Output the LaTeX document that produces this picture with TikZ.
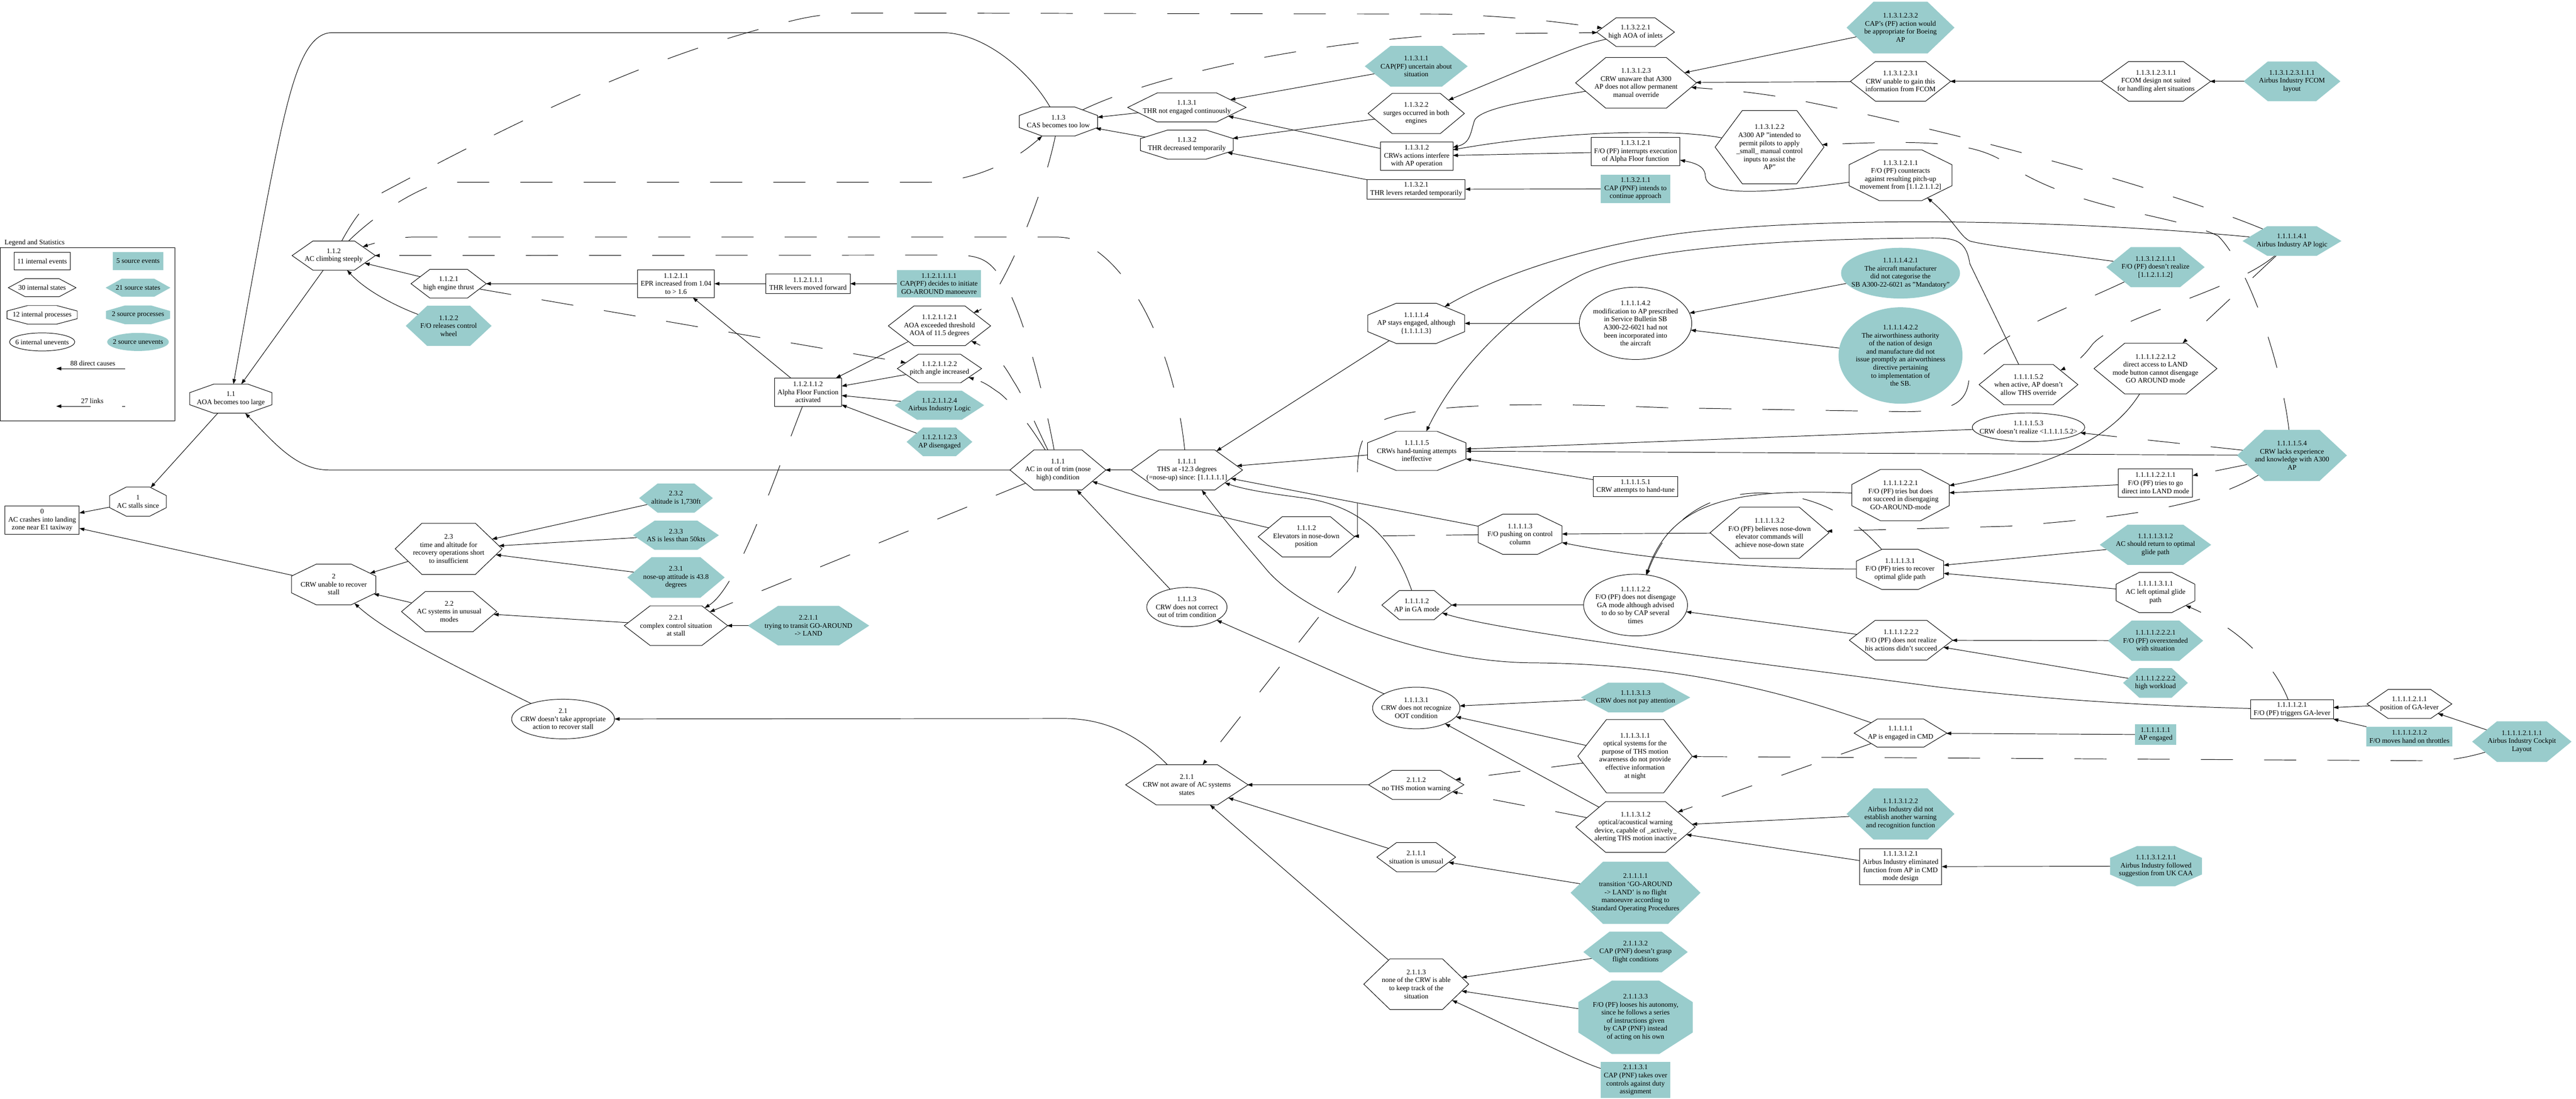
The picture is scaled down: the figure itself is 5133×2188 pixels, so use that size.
\documentclass[tikz,border=0pt]{standalone}
\usepackage{fontspec}
\setmainfont{Liberation Serif}
\usetikzlibrary{arrows.meta,shapes.geometric}
\definecolor{src}{RGB}{153,204,204}
\makeatletter
\pgfkeys{/pgf/cpoly xsep/.initial=0pt,/pgf/cpoly ysep/.initial=0pt}
\pgfdeclareshape{cpoly}{%
  \inheritsavedanchors[from=rectangle]%
  \inheritanchor[from=rectangle]{center}%
  \inheritanchor[from=rectangle]{north}%
  \inheritanchor[from=rectangle]{south}%
  \inheritanchor[from=rectangle]{east}%
  \inheritanchor[from=rectangle]{west}%
  \savedmacro\cpolyxsep{\pgfmathsetlength\pgf@xa{\pgfkeysvalueof{/pgf/cpoly xsep}}\edef\cpolyxsep{\the\pgf@xa}}%
  \savedmacro\cpolyysep{\pgfmathsetlength\pgf@xa{\pgfkeysvalueof{/pgf/cpoly ysep}}\edef\cpolyysep{\the\pgf@xa}}%
  \backgroundpath{%
    \southwest\edef\cpL{\the\pgf@x}\edef\cpB{\the\pgf@y}%
    \northeast\edef\cpR{\the\pgf@x}\edef\cpT{\the\pgf@y}%
    \pgf@xc=\cpolyxsep\relax\pgf@yc=\cpolyysep\relax
    \pgf@xa=\cpL\relax\advance\pgf@xa by\pgf@xc\edef\cpLi{\the\pgf@xa}%
    \pgf@xa=\cpR\relax\advance\pgf@xa by-\pgf@xc\edef\cpRi{\the\pgf@xa}%
    \pgf@ya=\cpB\relax\advance\pgf@ya by\pgf@yc\edef\cpBi{\the\pgf@ya}%
    \pgf@ya=\cpT\relax\advance\pgf@ya by-\pgf@yc\edef\cpTi{\the\pgf@ya}%
    \pgfpathmoveto{\pgfqpoint{\cpLi}{\cpT}}%
    \pgfpathlineto{\pgfqpoint{\cpRi}{\cpT}}%
    \pgfpathlineto{\pgfqpoint{\cpR}{\cpTi}}%
    \pgfpathlineto{\pgfqpoint{\cpR}{\cpBi}}%
    \pgfpathlineto{\pgfqpoint{\cpRi}{\cpB}}%
    \pgfpathlineto{\pgfqpoint{\cpLi}{\cpB}}%
    \pgfpathlineto{\pgfqpoint{\cpL}{\cpBi}}%
    \pgfpathlineto{\pgfqpoint{\cpL}{\cpTi}}%
    \pgfpathclose
  }%
  \anchorborder{%
    \edef\cpdx{\the\pgf@x}\edef\cpdy{\the\pgf@y}%
    \southwest\edef\cpswx{\the\pgf@x}\edef\cpswy{\the\pgf@y}%
    \northeast\edef\cpnex{\the\pgf@x}\edef\cpney{\the\pgf@y}%
    \pgfmathsetmacro\cpA{(\cpnex-(\cpswx))/2}%
    \pgfmathsetmacro\cpB{(\cpney-(\cpswy))/2}%
    \pgfmathsetmacro\cpMX{(\cpnex+(\cpswx))/2}%
    \pgfmathsetmacro\cpMY{(\cpney+(\cpswy))/2}%
    \pgfmathsetmacro\cpCX{\cpolyxsep}%
    \pgfmathsetmacro\cpCY{\cpolyysep}%
    \pgfmathsetmacro\cpDX{\cpdx/100}%
    \pgfmathsetmacro\cpDY{\cpdy/100}%
    \pgfmathsetmacro\cpLen{max(veclen(\cpDX,\cpDY),0.001)}%
    \pgfmathsetmacro\cpUX{\cpDX/\cpLen}%
    \pgfmathsetmacro\cpUY{\cpDY/\cpLen}%
    \pgfmathsetmacro\cpAX{max(abs(\cpUX),0.01)}%
    \pgfmathsetmacro\cpAY{max(abs(\cpUY),0.01)}%
    \pgfmathsetmacro\cpbT{min(min(\cpA/\cpAX,\cpB/\cpAY),(\cpCY*\cpA+\cpCX*\cpB-\cpCX*\cpCY)/(\cpCY*\cpAX+\cpCX*\cpAY))}%
    \pgfmathsetmacro\cpRX{\cpMX+\cpbT*\cpUX}%
    \pgfmathsetmacro\cpRY{\cpMY+\cpbT*\cpUY}%
    \pgf@x=\cpRX pt\relax
    \pgf@y=\cpRY pt\relax
  }%
}
\makeatother
\tikzset{
  nd/.style={font=\fontsize{14}{16}\selectfont, align=center, inner sep=0pt, outer sep=0pt, line width=1pt},
  evt/.style 2 args={nd, rectangle, draw, minimum width=#1pt, minimum height=#2pt},
  sevt/.style 2 args={nd, rectangle, fill=src, minimum width=#1pt, minimum height=#2pt},
  sta/.style 2 args={nd, shape=cpoly, draw, minimum width=#1pt, minimum height=#2pt, /pgf/cpoly xsep={0.25*#1pt}, /pgf/cpoly ysep={0.5*#2pt}},
  ssta/.style 2 args={nd, shape=cpoly, fill=src, minimum width=#1pt, minimum height=#2pt, /pgf/cpoly xsep={0.25*#1pt}, /pgf/cpoly ysep={0.5*#2pt}},
  pro/.style 2 args={nd, shape=cpoly, draw, minimum width=#1pt, minimum height=#2pt, /pgf/cpoly xsep={0.293*#1pt}, /pgf/cpoly ysep={0.293*#2pt}},
  spro/.style 2 args={nd, shape=cpoly, fill=src, minimum width=#1pt, minimum height=#2pt, /pgf/cpoly xsep={0.293*#1pt}, /pgf/cpoly ysep={0.293*#2pt}},
  une/.style 2 args={nd, ellipse, draw, minimum width=#1pt, minimum height=#2pt, inner sep=-30pt},
  sune/.style 2 args={nd, ellipse, fill=src, minimum width=#1pt, minimum height=#2pt, inner sep=-30pt},
  cause/.style={-{Triangle[length=10pt,width=7pt]}, line width=1pt},
  lnk/.style={cause, dash pattern=on 64pt off 62pt},
}
\begin{document}
\begin{tikzpicture}[x=1pt,y=-1pt]
\fill[white] (0,0) rectangle (5133,2188);
\useasboundingbox (0,0) rectangle (5133,2188);
% ---------------- legend
\node[nd, anchor=west] (lgt) at (9,484) {Legend and Statistics};
\node[draw, line width=1pt, minimum width=348pt, minimum height=345pt, inner sep=0pt, outer sep=0pt] (lgb) at (175,665.5) {};
\node[evt={112}{35}] (lg1) at (84,520) {11 internal events};
\node[sevt={100}{36}] (lg2) at (275,520) {5 source events};
\node[sta={135}{36}] (lg3) at (84,573) {30 internal states};
\node[ssta={129}{36}] (lg4) at (275,573) {21 source states};
\node[pro={140}{37}] (lg5) at (84,627) {12 internal processes};
\node[spro={128}{37}] (lg6) at (275,627) {2 source processes};
\node[une={130}{36}] (lg7) at (84,681) {6 internal unevents};
\node[sune={123}{36}] (lg8) at (275,681) {2 source unevents};
\coordinate (lc1) at (249,734); \coordinate (lc2) at (112,734);
\draw[cause] (lc1) -- (lc2);
\node[nd] (lgl1) at (185,724) {88 direct causes};
\coordinate (lc3) at (249,809); \coordinate (lc4) at (112,809);
\draw[lnk, dash phase=58pt] (lc3) -- (lc4);
\node[nd] (lgl2) at (184,799) {27 links};
% ---------------- nodes
\node[evt={148}{56}] (n0) at (84,1036) {0\\AC crashes into landing\\zone near E1 taxiway};
\node[pro={113}{58}] (n1) at (275,999) {1\\AC stalls since};
\node[pro={164}{58}] (n11) at (460,794) {1.1\\AOA becomes too large};
\node[sta={166}{58}] (n112) at (665,509) {1.1.2\\AC climbing steeply};
\node[sta={150}{57}] (n1121) at (894,565) {1.1.2.1\\high engine thrust};
\node[ssta={171}{80}] (n1122) at (894,649) {1.1.2.2\\F/O releases control\\wheel};
\node[evt={153}{55}] (n11211) at (1347,565) {1.1.2.1.1\\EPR increased from 1.04\\to > 1.6};
\node[evt={168}{39}] (n112111) at (1610,565) {1.1.2.1.1.1\\THR levers moved forward};
\node[sevt={167}{55}] (n1121111) at (1871,565) {1.1.2.1.1.1.1\\CAP(PF) decides to initiate\\GO-AROUND manoeuvre};
\node[evt={134}{56}] (n112112) at (1610,781) {1.1.2.1.1.2\\Alpha Floor Function\\activated};
\node[sta={204}{79}] (n1121121) at (1872,649) {1.1.2.1.1.2.1\\AOA exceeded threshold\\AOA of 11.5 degrees};
\node[sta={168}{57}] (n1121122) at (1872,734) {1.1.2.1.1.2.2\\pitch angle increased};
\node[ssta={178}{58}] (n1121124) at (1872,807) {1.1.2.1.1.2.4\\Airbus Industry Logic};
\node[ssta={131}{57}] (n1121123) at (1872,880) {1.1.2.1.1.2.3\\AP disengaged};
\node[pro={156}{58}] (n113) at (2109,242) {1.1.3\\CAS becomes too low};
\node[sta={236}{58}] (n1131) at (2365,214) {1.1.3.1\\THR not engaged continuously};
\node[pro={185}{58}] (n1132) at (2365,288) {1.1.3.2\\THR decreased temporarily};
\node[ssta={205}{81}] (n11311) at (2822,132) {1.1.3.1.1\\CAP(PF) uncertain about\\situation};
\node[sta={192}{80}] (n11322) at (2822,226) {1.1.3.2.2\\surges occurred in both\\engines};
\node[evt={144}{56}] (n11312) at (2823,311) {1.1.3.1.2\\CRWs actions interfere\\with AP operation};
\node[evt={195}{39}] (n11321) at (2822,377) {1.1.3.2.1\\THR levers retarded temporarily};
\node[sta={155}{57}] (n113221) at (3259,64) {1.1.3.2.2.1\\high AOA of inlets};
\node[sta={241}{101}] (n113123) at (3260,165) {1.1.3.1.2.3\\CRW unaware that A300\\AP does not allow permanent\\manual override};
\node[evt={177}{57}] (n113121) at (3259,302) {1.1.3.1.2.1\\F/O (PF) interrupts execution\\of Alpha Floor function};
\node[sevt={139}{56}] (n113211) at (3259,376) {1.1.3.2.1.1\\CAP (PNF) intends to\\continue approach};
\node[ssta={215}{103}] (n1131232) at (3787,55) {1.1.3.1.2.3.2\\CAP's (PF) action would\\be appropriate for Boeing\\AP};
\node[sta={200}{79}] (n1131231) at (3787,162) {1.1.3.1.2.3.1\\CRW unable to gain this\\information from FCOM};
\node[sta={218}{79}] (n11312311) at (4296,162) {1.1.3.1.2.3.1.1\\FCOM design not suited\\for handling alert situations};
\node[ssta={193}{79}] (n113123111) at (4567,162) {1.1.3.1.2.3.1.1.1\\Airbus Industry FCOM\\layout};
\node[sta={217}{146}] (n113122) at (3526,293) {1.1.3.1.2.2\\A300 AP "intended to\\permit pilots to apply\\\_small\_ manual control\\inputs to assist the\\AP"};
\node[pro={205}{101}] (n1131211) at (3787,349) {1.1.3.1.2.1.1\\F/O (PF) counteracts\\against resulting pitch-up\\movement from [1.1.2.1.1.2]};
\node[ssta={196}{80}] (n11312111) at (4295,532) {1.1.3.1.2.1.1.1\\F/O (PF) doesn't realize\\{}[1.1.2.1.1.2]};
\node[sta={191}{80}] (n111) at (2108,936) {1.1.1\\AC in out of trim (nose\\high) condition};
\node[sta={222}{80}] (n1111) at (2365,936) {1.1.1.1\\THS at -12.3 degrees\\(=nose-up) since: [1.1.1.1.1]};
\node[pro={193}{80}] (n11114) at (2822,644) {1.1.1.1.4\\AP stays engaged, although\\\{1.1.1.1.3\}};
\node[une={224}{144}] (n111142) at (3259,644) {1.1.1.1.4.2\\modification to AP prescribed\\in Service Bulletin SB\\A300-22-6021 had not\\been incorporated into\\the aircraft};
\node[ssta={197}{59}] (n111141) at (4567,480) {1.1.1.1.4.1\\Airbus Industry AP logic};
\node[sune={237}{101}] (n1111421) at (3787,544) {1.1.1.1.4.2.1\\The aircraft manufacturer\\did not categorise the\\SB A300-22-6021 as "Mandatory"};
\node[sune={247}{192}] (n1111422) at (3787,708) {1.1.1.1.4.2.2\\The airworthiness authority\\of the nation of design\\and manufacture did not\\issue promptly an airworthiness\\directive pertaining\\to implementation of\\the SB.};
\node[pro={196}{78}] (n11115) at (2823,898) {1.1.1.1.5\\CRWs hand-tuning attempts\\ineffective};
\node[evt={169}{40}] (n111151) at (3259,969) {1.1.1.1.5.1\\CRW attempts to hand-tune};
\node[sta={197}{80}] (n111152) at (4042,766) {1.1.1.1.5.2\\when active, AP doesn't\\allow THS override};
\node[une={224}{57}] (n111153) at (4042,851) {1.1.1.1.5.3\\CRW doesn't realize <1.1.1.1.5.2>};
\node[ssta={219}{102}] (n111154) at (4567,907) {1.1.1.1.5.4\\CRW lacks experience\\and knowledge with A300\\AP};
\node[sta={245}{101}] (n111122112) at (4295,734) {1.1.1.1.2.2.1.2\\direct access to LAND\\mode button cannot disengage\\GO AROUND mode};
\node[evt={148}{56}] (n11112211) at (4295,962) {1.1.1.1.2.2.1.1\\F/O (PF) tries to go\\direct into LAND mode};
\node[pro={194}{102}] (n1111221) at (3787,986) {1.1.1.1.2.2.1\\F/O (PF) tries but does\\not succeed in disengaging\\GO-AROUND-mode};
\node[sta={192}{80}] (n1112) at (2603,1069) {1.1.1.2\\Elevators in nose-down\\position};
\node[pro={167}{80}] (n11113) at (3029,1064) {1.1.1.1.3\\F/O pushing on control\\column};
\node[sta={237}{102}] (n111132) at (3526,1061) {1.1.1.1.3.2\\F/O (PF) believes nose-down\\elevator commands will\\achieve nose-down state};
\node[pro={174}{80}] (n111131) at (3786,1134) {1.1.1.1.3.1\\F/O (PF) tries to recover\\optimal glide path};
\node[ssta={222}{80}] (n1111312) at (4295,1085) {1.1.1.1.3.1.2\\AC should return to optimal\\glide path};
\node[pro={157}{80}] (n1111311) at (4295,1180) {1.1.1.1.3.1.1\\AC left optimal glide\\path};
\node[sta={139}{58}] (n11112) at (2823,1205) {1.1.1.1.2\\AP in GA mode};
\node[une={207}{123}] (n111122) at (3259,1205) {1.1.1.1.2.2\\F/O (PF) does not disengage\\GA mode although advised\\to do so by CAP several\\times};
\node[sta={206}{79}] (n1111222) at (3788,1275) {1.1.1.1.2.2.2\\F/O (PF) does not realize\\his actions didn't succeed};
\node[ssta={190}{80}] (n11112221) at (4295,1276) {1.1.1.1.2.2.2.1\\F/O (PF) overextended\\with situation};
\node[ssta={129}{59}] (n11112222) at (4295,1360) {1.1.1.1.2.2.2.2\\high workload};
\node[evt={165}{38}] (n111121) at (4567,1413) {1.1.1.1.2.1\\F/O (PF) triggers GA-lever};
\node[sta={169}{58}] (n1111211) at (4801,1402) {1.1.1.1.2.1.1\\position of GA-lever};
\node[sevt={171}{40}] (n1111212) at (4801,1467) {1.1.1.1.2.1.2\\F/O moves hand on throttles};
\node[ssta={198}{81}] (n11112111) at (5025,1477) {1.1.1.1.2.1.1.1\\Airbus Industry Cockpit\\Layout};
\node[sta={185}{56}] (n11111) at (3787,1460) {1.1.1.1.1\\AP is engaged in CMD};
\node[sevt={82}{41}] (n111111) at (4295,1463) {1.1.1.1.1.1\\AP engaged};
\node[une={160}{78}] (n1113) at (2365,1209) {1.1.1.3\\CRW does not correct\\out of trim condition};
\node[une={174}{83}] (n11131) at (2822,1410) {1.1.1.3.1\\CRW does not recognize\\OOT condition};
\node[ssta={218}{59}] (n111313) at (3259,1389) {1.1.1.3.1.3\\CRW does not pay attention};
\node[sta={228}{146}] (n111311) at (3258,1506) {1.1.1.3.1.1\\optical systems for the\\purpose of THS motion\\awareness do not provide\\effective information\\at night};
\node[sta={238}{101}] (n111312) at (3259,1647) {1.1.1.3.1.2\\optical/acoustical warning\\device, capable of \_actively\_\\alerting THS motion inactive};
\node[ssta={215}{102}] (n1113122) at (3787,1621) {1.1.1.3.1.2.2\\Airbus Industry did not\\establish another warning\\and recognition function};
\node[evt={164}{72}] (n1113121) at (3787,1726) {1.1.1.3.1.2.1\\Airbus Industry eliminated\\function from AP in CMD\\mode design};
\node[spro={183}{80}] (n111312111) at (4296,1725) {1.1.1.3.1.2.1.1\\Airbus Industry followed\\suggestion from UK CAA};
\node[pro={168}{81}] (n2) at (665,1164) {2\\CRW unable to recover\\stall};
\node[sta={213}{102}] (n23) at (894,1093) {2.3\\time and altitude for\\recovery operations short\\to insufficient};
\node[sta={190}{80}] (n22) at (895,1218) {2.2\\AC systems in unusual\\modes};
\node[une={205}{79}] (n21) at (1122,1432) {2.1\\CRW doesn't take appropriate\\action to recover stall};
\node[ssta={147}{58}] (n232) at (1347,992) {2.3.2\\altitude is 1,730ft};
\node[ssta={171}{58}] (n233) at (1347,1066) {2.3.3\\AS is less than 50kts};
\node[ssta={194}{81}] (n231) at (1347,1150) {2.3.1\\nose-up attitude is 43.8\\degrees};
\node[sta={206}{79}] (n221) at (1347,1246) {2.2.1\\complex control situation\\at stall};
\node[ssta={242}{79}] (n2211) at (1611,1246) {2.2.1.1\\trying to transit GO-AROUND\\-> LAND};
\node[sta={244}{80}] (n211) at (2365,1563) {2.1.1\\CRW not aware of AC systems\\states};
\node[sta={190}{58}] (n2112) at (2822,1563) {2.1.1.2\\no THS motion warning};
\node[sta={157}{58}] (n2111) at (2822,1707) {2.1.1.1\\situation is unusual};
\node[sta={209}{101}] (n2113) at (2822,1960) {2.1.1.3\\none of the CRW is able\\to keep track of the\\situation};
\node[ssta={259}{124}] (n21111) at (3259,1778) {2.1.1.1.1\\transition `GO-AROUND\\-> LAND' is no flight\\manoeuvre according to\\Standard Operating Procedures};
\node[ssta={208}{81}] (n21132) at (3259,1896) {2.1.1.3.2\\CAP (PNF) doesn't grasp\\flight conditions};
\node[spro={228}{146}] (n21133) at (3259,2026) {2.1.1.3.3\\F/O (PF) looses his autonomy,\\since he follows a series\\of instructions given\\by CAP (PNF) instead\\of acting on his own};
\node[sevt={139}{72}] (n21131) at (3259,2151) {2.1.1.3.1\\CAP (PNF) takes over\\controls against duty\\assignment};
% ---------------- direct causes
\draw[cause] (n1) -- (n0);
\draw[cause] (n2) -- (n0);
\draw[cause] (n11) -- (n1);
\draw[cause] (n112) -- (n11);
\draw[cause] (n113) .. controls (2050,140) and (1960,65) .. (1877,65) -- (662,65) .. controls (610,65) and (585,150) .. (560,260) .. controls (545,330) and (530,400) .. (n11);
\draw[cause] (n111) -- (655,936) .. controls (590,936) and (545,880) .. (n11);
\draw[cause] (n1121) -- (n112);
\draw[cause] (n1122) .. controls (790,610) and (730,580) .. (n112);
\draw[cause] (n11211) -- (n1121);
\draw[cause] (n112111) -- (n11211);
\draw[cause] (n1121111) -- (n112111);
\draw[cause] (n112112) -- (n11211);
\draw[cause] (n1121121) -- (n112112);
\draw[cause] (n1121122) -- (n112112);
\draw[cause] (n1121124) -- (n112112);
\draw[cause] (n1121123) -- (n112112);
\draw[cause] (n1131) -- (n113);
\draw[cause] (n1132) -- (n113);
\draw[cause] (n11311) -- (n1131);
\draw[cause] (n11312) -- (n1131);
\draw[cause] (n11321) -- (n1132);
\draw[cause] (n11322) -- (n1132);
\draw[cause] (n113221) .. controls (3150,90) .. (n11322);
\draw[cause] (n113211) -- (n11321);
\draw[cause] (n113121) -- (n11312);
\draw[cause] (n113123) .. controls (3050,200) and (2950,215) .. (2938,240) .. controls (2930,265) and (2930,285) .. (n11312);
\draw[cause] (n113122) .. controls (3330,255) and (3100,262) .. (n11312);
\draw[cause] (n1131211) .. controls (3500,388) and (3400,390) .. (3398,350) .. controls (3397,332) and (3380,325) .. (n113121);
\draw[cause] (n11312111) .. controls (4100,505) and (3960,490) .. (3925,480) .. controls (3905,470) and (3895,440) .. (n1131211);
\draw[cause] (n1131231) -- (n113123);
\draw[cause] (n1131232) -- (n113123);
\draw[cause] (n11312311) -- (n1131231);
\draw[cause] (n113123111) -- (n11312311);
\draw[cause] (n1111) -- (n111);
\draw[cause] (n1112) .. controls (2270,990) .. (n111);
\draw[cause] (n1113) -- (n111);
\draw[cause] (n11111) .. controls (3560,1380) and (3350,1322) .. (3050,1320) .. controls (2850,1318) and (2600,1230) .. (2520,1130) .. controls (2460,1060) and (2420,1010) .. (n1111);
\draw[cause] (n11112) .. controls (2780,1080) and (2720,1010) .. (2600,992) .. controls (2530,983) and (2480,975) .. (n1111);
\draw[cause] (n11113) -- (n1111);
\draw[cause] (n11114) -- (n1111);
\draw[cause] (n11115) -- (n1111);
\draw[cause] (n111111) -- (n11111);
\draw[cause] (n111121) .. controls (4250,1405) and (4050,1390) .. (3860,1368) .. controls (3500,1320) and (3000,1260) .. (n11112);
\draw[cause] (n111122) -- (n11112);
\draw[cause] (n1111211) -- (n111121);
\draw[cause] (n1111212) -- (n111121);
\draw[cause] (n11112111) -- (n1111211);
\draw[cause] (n1111221) .. controls (3450,972) and (3330,1000) .. (n111122);
\draw[cause] (n1111222) -- (n111122);
\draw[cause] (n11112211) -- (n1111221);
\draw[cause] (n111122112) .. controls (4210,870) and (4100,925) .. (n1111221);
\draw[cause] (n11112221) -- (n1111222);
\draw[cause] (n11112222) -- (n1111222);
\draw[cause] (n111132) -- (n11113);
\draw[cause] (n111131) .. controls (3520,1132) and (3300,1118) .. (n11113);
\draw[cause] (n1111311) -- (n111131);
\draw[cause] (n1111312) -- (n111131);
\draw[cause] (n111142) -- (n11114);
\draw[cause] (n111141) .. controls (4150,440) and (3700,430) .. (3400,459) .. controls (3200,478) and (3000,540) .. (n11114);
\draw[cause] (n1111421) -- (n111142);
\draw[cause] (n1111422) -- (n111142);
\draw[cause] (n111151) -- (n11115);
\draw[cause] (n111152) -- (3925,525) .. controls (3918,478) and (3895,474) .. (3850,474) .. controls (3500,476) and (3250,500) .. (3150,548) .. controls (3010,620) and (2900,740) .. (n11115);
\draw[cause] (n111153) -- (n11115);
\draw[cause] (n111154) -- (n11115);
\draw[cause] (n11131) -- (n1113);
\draw[cause] (n111313) -- (n11131);
\draw[cause] (n111311) -- (n11131);
\draw[cause] (n111312) -- (n11131);
\draw[cause] (n1113121) -- (n111312);
\draw[cause] (n1113122) -- (n111312);
\draw[cause] (n111312111) -- (n1113121);
\draw[cause] (n23) -- (n2);
\draw[cause] (n22) -- (n2);
\draw[cause] (n21) .. controls (850,1300) and (760,1250) .. (n2);
\draw[cause] (n231) -- (n23);
\draw[cause] (n232) -- (n23);
\draw[cause] (n233) -- (n23);
\draw[cause] (n221) -- (n22);
\draw[cause] (n2211) -- (n221);
\draw[cause] (n211) .. controls (2260,1455) and (2190,1431) .. (2121,1431) -- (n21);
\draw[cause] (n2111) -- (n211);
\draw[cause] (n2112) -- (n211);
\draw[cause] (n2113) -- (n211);
\draw[cause] (n21111) -- (n2111);
\draw[cause] (n21131) .. controls (3130,2108) and (3000,2040) .. (n2113);
\draw[cause] (n21132) -- (n2113);
\draw[cause] (n21133) -- (n2113);
% ---------------- links
\draw[lnk] (n112) .. controls (700,445) and (725,405) .. (761,384) .. controls (1050,230) and (1300,110) .. (1564,45) .. controls (1620,30) and (1660,26) .. (1720,26) -- (2876,28) .. controls (3050,34) and (3130,48) .. (n113221);
\draw[lnk] (n112) .. controls (730,445) and (800,390) .. (870,366) .. controls (885,363) and (895,363) .. (907,363) -- (1846,363) .. controls (1930,362) and (2010,330) .. (n113);
\draw[lnk] (n1111) .. controls (2340,700) and (2260,540) .. (2168,489) .. controls (2140,474) and (2120,472) .. (2100,472) -- (830,472) .. controls (790,472) and (760,480) .. (n112);
\draw[lnk] (n111) .. controls (2075,760) and (2030,590) .. (1985,540) .. controls (1965,515) and (1945,508) .. (1900,508) -- (n112);
\draw[lnk] (n113) .. controls (2080,380) and (2030,500) .. (1990,570) .. controls (1975,595) and (1960,615) .. (n1121121);
\draw[lnk] (n111) .. controls (2070,860) and (2040,790) .. (2020,760) .. controls (2005,735) and (1990,705) .. (n1121121);
\draw[lnk] (n111) .. controls (2060,860) and (2030,815) .. (1992,783) .. controls (1975,772) and (1965,762) .. (n1121122);
\draw[lnk] (n112112) .. controls (1540,960) and (1470,1170) .. (n221);
\draw[lnk] (n111) -- (n221);
\draw[lnk] (n1121) -- (n1121122);
\draw[lnk] (n111141) .. controls (4300,370) and (3850,250) .. (3560,195) .. controls (3470,180) and (3420,178) .. (n113123);
\draw[lnk] (n113) .. controls (2300,150) and (2600,85) .. (2900,68) -- (n113221);
\draw[lnk] (n11312111) .. controls (4120,615) and (3935,680) .. (3924,750) .. controls (3920,805) and (3890,818) .. (3800,820) -- (3320,812) .. controls (3100,803) and (2850,800) .. (2760,835) .. controls (2715,855) and (2705,890) .. (2705,940) -- (2705,1100) .. controls (2705,1140) and (2690,1152) .. (2670,1175) -- (n211);
\draw[lnk] (n11113) -- (n1112);
\draw[lnk] (n111154) -- (n111153);
\draw[lnk] (n111154) -- (n11112211);
\draw[lnk] (n111154) .. controls (4400,1005) and (4250,1030) .. (4000,1048) -- (n111132);
\draw[lnk] (n11112111) .. controls (4900,1513) and (4870,1515) .. (4820,1515) -- (n111311);
\draw[lnk] (n11111) -- (n111312);
\draw[lnk] (n111311) -- (n2112);
\draw[lnk] (n111312) -- (n2112);
\draw[lnk] (n111141) .. controls (4450,580) and (4220,630) .. (4170,685) .. controls (4155,705) and (4140,722) .. (n111152);
\draw[lnk] (n111141) -- (n111122112);
\draw[lnk] (n111154) .. controls (4545,720) and (4480,530) .. (4420,470) .. controls (4330,425) and (4130,420) .. (3990,320) .. controls (3930,285) and (3850,278) .. (n113122);
\draw[lnk] (n111131) .. controls (3700,1040) and (3640,990) .. (3520,982) .. controls (3400,978) and (3320,1040) .. (n111122);
\draw[lnk] (n111121) .. controls (4535,1330) and (4470,1255) .. (n1111311);
\end{tikzpicture}
\end{document}
